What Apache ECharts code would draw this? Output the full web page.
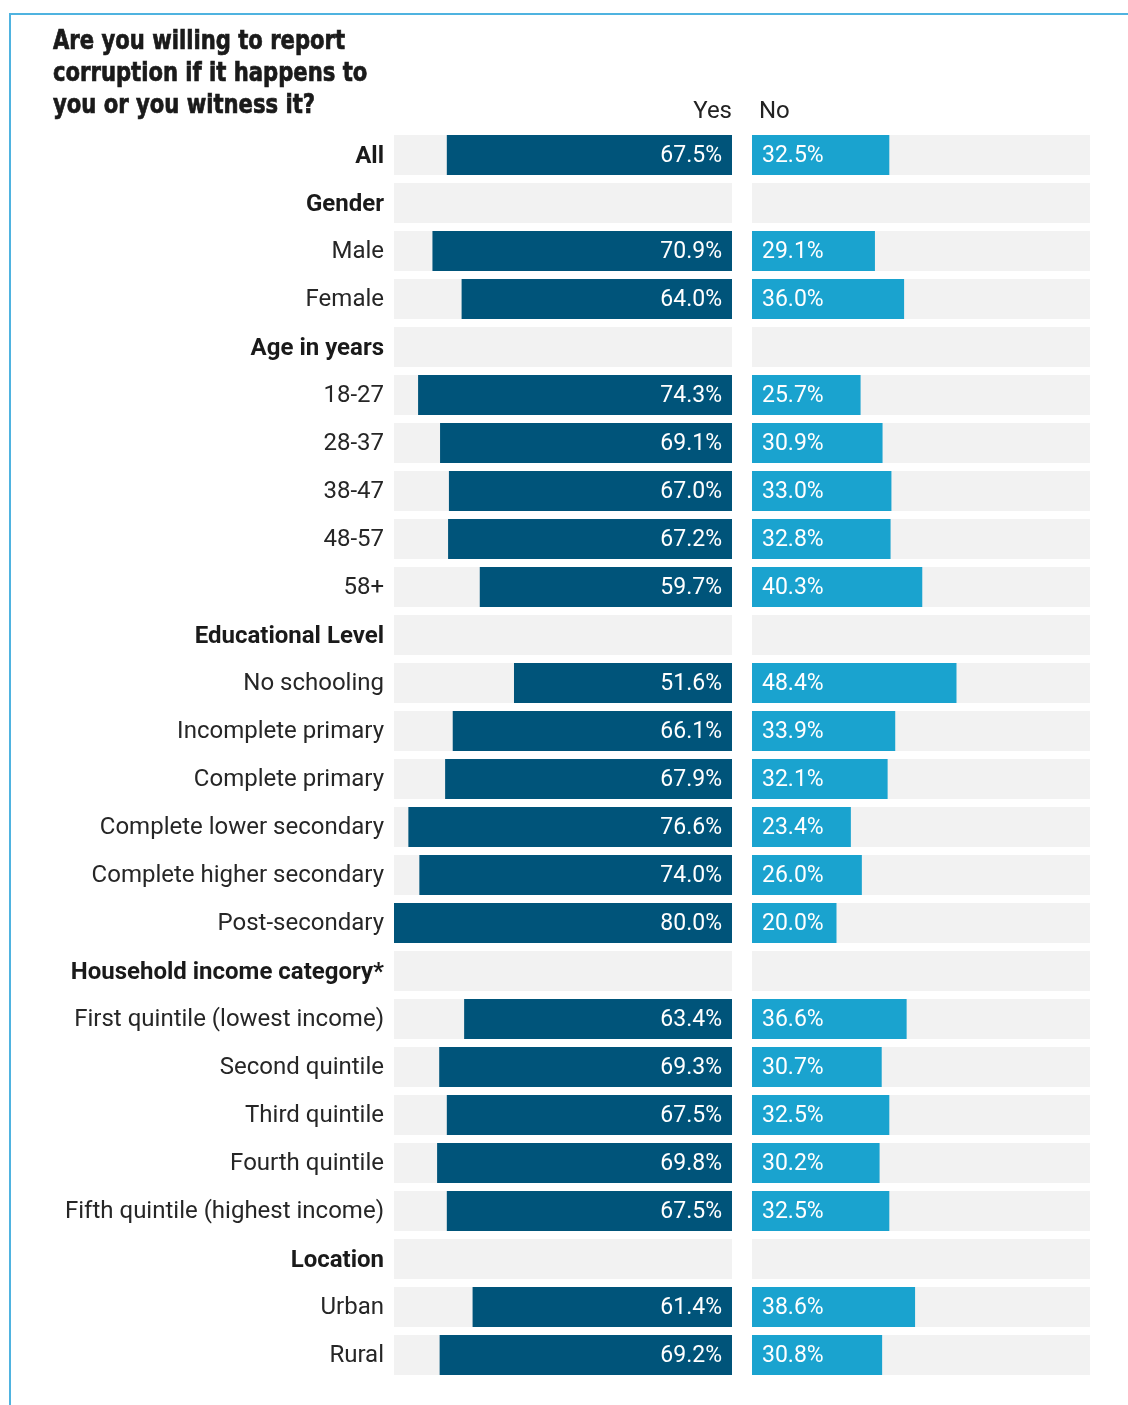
<!DOCTYPE html>
<html>
<head>
<meta charset="utf-8">
<script src="https://cdn.jsdelivr.net/npm/echarts@6/dist/echarts.min.js"></script>
<style>
  html, body { margin: 0; padding: 0; background: #fff; }
  #chart { width: 1128px; height: 1405px; }
</style>
</head>
<body>
<div id="chart"></div>
<script>
// Row labels, top to bottom
const categories = [
    "All", "Gender", "Male", "Female", "Age in years",
    "18-27", "28-37", "38-47", "48-57", "58+",
    "Educational Level", "No schooling", "Incomplete primary", "Complete primary",
    "Complete lower secondary", "Complete higher secondary", "Post-secondary",
    "Household income category*", "First quintile (lowest income)", "Second quintile",
    "Third quintile", "Fourth quintile", "Fifth quintile (highest income)",
    "Location", "Urban", "Rural"
];
const headerRows = ["All", "Gender", "Age in years", "Educational Level", "Household income category*", "Location"];

const yesValues = [
    67.5, null, 70.9, 64.0, null,
    74.3, 69.1, 67.0, 67.2, 59.7,
    null, 51.6, 66.1, 67.9, 76.6, 74.0, 80.0,
    null, 63.4, 69.3, 67.5, 69.8, 67.5,
    null, 61.4, 69.2
];
const noValues = [
    32.5, null, 29.1, 36.0, null,
    25.7, 30.9, 33.0, 32.8, 40.3,
    null, 48.4, 33.9, 32.1, 23.4, 26.0, 20.0,
    null, 36.6, 30.7, 32.5, 30.2, 32.5,
    null, 38.6, 30.8
];
const scaleMax = 80;
const backValues = categories.map(() => scaleMax);

let chart = echarts.init(document.getElementById("chart"));

const pct = p => p.value == null ? "" : p.value.toFixed(1) + "%";
const valueFont = { fontFamily: "Roboto", fontSize: 23, color: "#ffffff", offset: [0, 1] };

let option = {
    backgroundColor: "#ffffff",
    animation: false,
    grid: [
        { left: 394, top: 131, width: 338, height: 1248 },
        { left: 752, top: 131, width: 338, height: 1248 }
    ],
    xAxis: [
        { gridIndex: 0, type: "value", min: 0, max: scaleMax, inverse: true, show: false },
        { gridIndex: 1, type: "value", min: 0, max: scaleMax, show: false }
    ],
    yAxis: [
        {
            gridIndex: 0, type: "category", data: categories, inverse: true,
            axisLine: { show: false }, axisTick: { show: false }, splitLine: { show: false },
            axisLabel: {
                margin: 10,
                fontFamily: "Roboto", fontSize: 24, color: "#262626",
                padding: [2, 0, 0, 0],
                formatter: v => headerRows.includes(v) ? "{h|" + v + "}" : v,
                rich: { h: { fontFamily: "Roboto", fontSize: 24, fontWeight: "bold", color: "#1a1a1a", padding: [2, 0, 0, 0] } }
            }
        },
        {
            gridIndex: 1, type: "category", data: categories, inverse: true, show: false
        }
    ],
    series: [
        {
            type: "bar", xAxisIndex: 0, yAxisIndex: 0, data: backValues,
            barWidth: 40, itemStyle: { color: "#f2f2f2" }, silent: true
        },
        {
            type: "bar", xAxisIndex: 0, yAxisIndex: 0, data: yesValues,
            barWidth: 40, barGap: "-100%", itemStyle: { color: "#00547a" },
            label: { show: true, position: "insideRight", distance: 10, formatter: pct, ...valueFont }
        },
        {
            type: "bar", xAxisIndex: 1, yAxisIndex: 1, data: backValues,
            barWidth: 40, itemStyle: { color: "#f2f2f2" }, silent: true
        },
        {
            type: "bar", xAxisIndex: 1, yAxisIndex: 1, data: noValues,
            barWidth: 40, barGap: "-100%", itemStyle: { color: "#1aa3cf" },
            label: { show: true, position: "insideLeft", distance: 10, formatter: pct, ...valueFont }
        }
    ],
    graphic: [
        // frame lines
        { type: "line", shape: { x1: 9, y1: 14, x2: 1128, y2: 14 }, style: { stroke: "#4fb3e0", lineWidth: 2 } },
        { type: "line", shape: { x1: 10, y1: 14, x2: 10, y2: 1405 }, style: { stroke: "#4fb3e0", lineWidth: 2 } },
        {
            type: "text", x: 53, y: 26, scaleX: 0.87,
            style: {
                text: "Are you willing to report\ncorruption if it happens to\nyou or you witness it?",
                font: "bold 27px 'DejaVu Sans Condensed', 'DejaVu Sans'",
                lineHeight: 32, fill: "#1a1a1a", stroke: "#1a1a1a", lineWidth: 0.7
            }
        },
        {
            type: "text", right: 1128 - 732, top: 100,
            style: { text: "Yes", font: "24px Roboto", fill: "#222222" }
        },
        {
            type: "text", left: 759, top: 100,
            style: { text: "No", font: "24px Roboto", fill: "#222222" }
        }
    ]
};

chart.setOption(option);
</script>
</body>
</html>
